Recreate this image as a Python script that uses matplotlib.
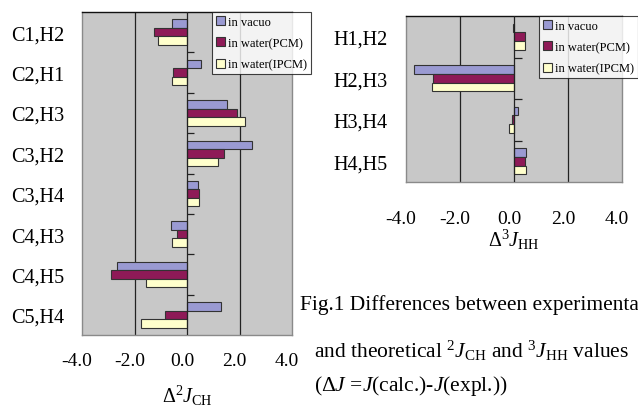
import matplotlib
matplotlib.use("Agg")
import matplotlib.pyplot as plt
import matplotlib.transforms as mtransforms
import numpy as np

plt.rcParams["font.family"] = ["Liberation Serif", "DejaVu Serif"]
plt.rcParams["mathtext.fontset"] = "custom"
plt.rcParams["mathtext.rm"] = "Liberation Serif"
plt.rcParams["mathtext.it"] = "Liberation Serif:italic"
plt.rcParams["mathtext.bf"] = "Liberation Serif:bold"

# ---------------------------------------------------------------------------
# DATA
# ---------------------------------------------------------------------------
series_names = ["in vacuo", "in water(PCM)", "in water(IPCM)"]
colors = ["#9a9ad2", "#8e1a57", "#ffffcc"]

ch_pairs = ["C1,H2", "C2,H1", "C2,H3", "C3,H2", "C3,H4", "C4,H3", "C4,H5", "C5,H4"]
ch_vacuo = [-0.56, 0.55, 1.52, 2.46, 0.42, -0.61, -2.65, 1.31]
ch_pcm = [-1.27, -0.53, 1.90, 1.41, 0.44, -0.38, -2.91, -0.83]
ch_ipcm = [-1.09, -0.56, 2.21, 1.18, 0.46, -0.56, -1.57, -1.75]

hh_pairs = ["H1,H2", "H2,H3", "H3,H4", "H4,H5"]
hh_vacuo = [-0.04, -3.72, 0.14, 0.46]
hh_pcm = [0.42, -2.99, -0.07, 0.42]
hh_ipcm = [0.42, -3.02, -0.19, 0.46]

x_ticks = [-4.0, -2.0, 0.0, 2.0, 4.0]


def draw_panel(ax, cats, series, xlabel, label_pad, xlabel_pad, legend_anchor):
    y = np.arange(len(cats))
    h = 0.21
    offsets = [-h, 0.0, h]
    handles = []
    for vals, off, col, name in zip(series, offsets, colors, series_names):
        b = ax.barh(y + off, vals, height=h, color=col, edgecolor="#333333",
                    linewidth=0.8, label=name, zorder=3)
        handles.append(b)

    ax.set_facecolor("#c8c8c8")
    ax.set_xlim(-4, 4)
    ax.set_ylim(len(cats) - 0.5, -0.5)

    # gridlines at -2 / 2, zero axis line with category ticks
    for gx in (-2, 2):
        ax.axvline(gx, color="#222222", linewidth=0.9, zorder=1)
    ax.axvline(0, color="#222222", linewidth=0.9, zorder=4)
    ax.hlines(y[:-1] + 0.5, 0, 0.28, color="#222222", linewidth=0.9, zorder=4)

    for s in ("left", "right", "bottom"):
        ax.spines[s].set_color("#8a8a8a")
        ax.spines[s].set_linewidth(1.0)
    ax.spines["top"].set_color("#111111")
    ax.spines["top"].set_linewidth(1.0)

    ax.set_yticks(y)
    ax.set_yticklabels(cats, fontsize=14.5)
    ax.tick_params(axis="y", length=0, pad=13)
    ax.set_xticks(x_ticks)
    ax.set_xticklabels([f"{v:.1f}" for v in x_ticks], fontsize=14)
    ax.tick_params(axis="x", length=0, pad=label_pad)
    shift = mtransforms.ScaledTranslation(-5 / 100, 0, ax.figure.dpi_scale_trans)
    for lab in ax.get_xticklabels():
        lab.set_transform(lab.get_transform() + shift)
    ax.set_xlabel(xlabel, fontsize=14.5, labelpad=xlabel_pad)

    leg = ax.figure.legend(handles=handles, loc="upper left",
                           bbox_to_anchor=legend_anchor, fontsize=9,
                           frameon=True, fancybox=False, edgecolor="#111111",
                           handlelength=0.7, handleheight=0.7, handletextpad=0.3,
                           labelspacing=0.75, borderpad=0.3, borderaxespad=0)
    leg.get_frame().set_linewidth(0.8)
    leg.set_zorder(10)


fig = plt.figure(figsize=(6.38, 4.06), dpi=100)

ax1 = fig.add_axes([82 / 638, 1 - 336 / 406, 210 / 638, 323 / 406])
draw_panel(ax1, ch_pairs, [ch_vacuo, ch_pcm, ch_ipcm],
           r"$\Delta^2J_{\rm CH}$", 12, 10, (212 / 638, 1 - 13 / 406))

ax2 = fig.add_axes([406 / 638, 1 - 183 / 406, 216 / 638, 166 / 406])
draw_panel(ax2, hh_pairs, [hh_vacuo, hh_pcm, hh_ipcm],
           r"$\Delta^3J_{\rm HH}$", 20, 0, (539 / 638, 1 - 17 / 406))

# caption
fig.text(300 / 638, 1 - 305 / 406, "Fig.1 Differences between experimental",
         fontsize=15.5, va="center", ha="left")
fig.text(314 / 638, 1 - 351 / 406,
         r"and theoretical $^2J_{\rm CH}$ and $^3J_{\rm HH}$ values",
         fontsize=15.5, va="center", ha="left")
fig.text(314 / 638, 1 - 386 / 406, r"($\Delta J$ =$J$(calc.)-$J$(expl.))",
         fontsize=15.5, va="center", ha="left")

fig.savefig("out.png", dpi=100, facecolor="white")
